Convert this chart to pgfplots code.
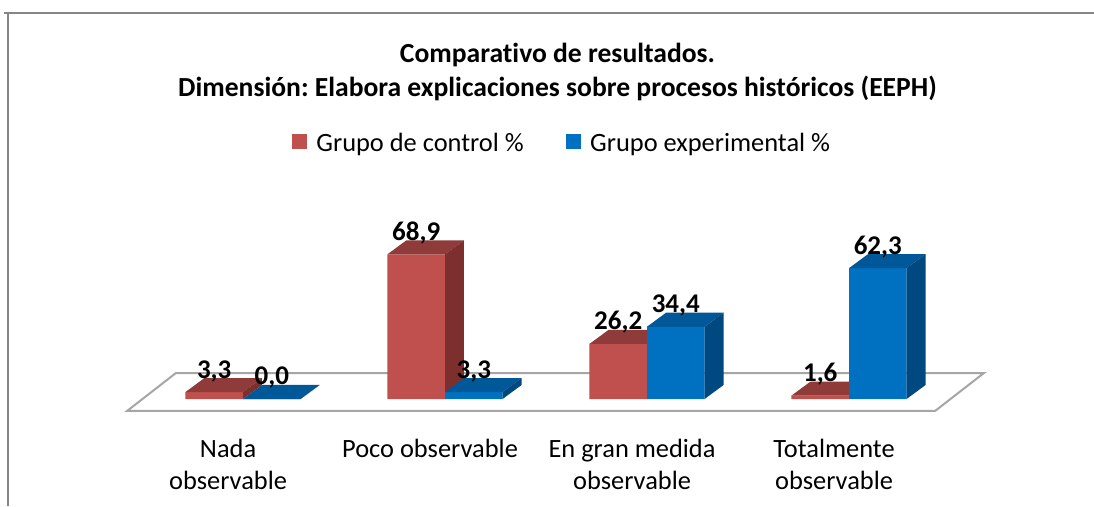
\documentclass[border=0pt]{standalone}
\usepackage{pgfplots}
\pgfplotsset{compat=1.18}
\usepackage{pgfplotstable}
\usepackage{fontspec}
\setmainfont{Carlito}[Ligatures=NoCommon]
\frenchspacing
\definecolor{cred}{RGB}{192,80,77}
\definecolor{credtop}{RGB}{142,59,57}
\definecolor{credside}{RGB}{125,47,45}
\definecolor{cblue}{RGB}{0,112,192}
\definecolor{cbluetop}{RGB}{0,88,152}
\definecolor{cblueside}{RGB}{0,72,128}
\definecolor{floorgray}{RGB}{166,166,166}
\definecolor{framegray}{RGB}{134,134,134}

\newcommand\bw{0.285}
\newcommand\ddx{0.094}
\newcommand\ddy{6.67}

\newcommand\faces[4]{%
 \pgfmathsetmacro\xa{#1}%
 \pgfmathsetmacro\xb{#1+\bw}%
 \pgfmathsetmacro\xc{#1+\bw+\ddx}%
 \pgfmathsetmacro\xd{#1+\ddx}%
 \pgfmathsetmacro\ya{#2}%
 \pgfmathsetmacro\yb{#2+\ddy}%
 \edef\tmpfaces{%
  \noexpand\addplot[fill=#3,draw=none,forget plot] coordinates {(\xa,\ya) (\xb,\ya) (\xc,\yb) (\xd,\yb)} -- cycle;%
  \noexpand\addplot[fill=#4,draw=none,forget plot] coordinates {(\xb,0) (\xc,\ddy) (\xc,\yb) (\xb,\ya)} -- cycle;%
 }\tmpfaces}

\pgfplotstableread{
x v
0 3.3
1 68.9
2 26.2
3 1.6
}\ctrl
\pgfplotstableread{
x v
0 0.0
1 3.3
2 34.4
3 62.3
}\expt

\begin{document}
\begin{tikzpicture}
\useasboundingbox (0,0) rectangle (1094pt,506pt);
\fill[white] (0,0) rectangle (1094pt,506pt);
\draw[framegray, line width=2pt] (4pt,493pt) -- (1094pt,493pt);
\draw[framegray, line width=2pt] (8pt,493pt) -- (8pt,0pt);
\begin{axis}[
  at={(121.8pt,94.4pt)}, anchor=south west,
  x=202pt, y=2.1pt,
  xmin=-0.6, xmax=3.7, ymin=-6, ymax=80,
  clip=false,
  axis line style={draw=none},
  ytick=\empty,
  xtick={-0.074,0.926,1.926,2.926},
  xticklabels={{Nada\\observable},{Poco observable},{En gran medida\\observable},{Totalmente\\observable}},
  major tick length=0pt,
  xticklabel style={font=\fontsize{26.4}{32}\selectfont, align=center, anchor=north, yshift=-24pt},
  legend style={at={(0.5068,1.484)}, anchor=center, draw=none, fill=none,
    legend columns=2, font=\fontsize{26.4}{30}\selectfont,
    /tikz/every odd column/.append style={column sep=8pt},
    /tikz/every even column/.append style={column sep=40pt}},
]
% floor
\addplot[fill=white, draw=floorgray, line width=2pt, forget plot] coordinates {(-0.574,-5.71) (3.426,-5.71) (3.668,12.38) (-0.332,12.38)} -- cycle;
% control bars
\addplot[ybar, bar width=\bw, bar shift=-0.1425, fill=cred, draw=none, forget plot] table[x=x,y=v]{\ctrl};
\pgfplotsinvokeforeach{0,1,2,3}{%
  \pgfplotstablegetelem{#1}{v}\of\ctrl
  \faces{#1-0.285}{\pgfplotsretval}{credtop}{credside}
}
% experimental bars
\addplot[ybar, bar width=\bw, bar shift=0.1425, fill=cblue, draw=none, forget plot] table[x=x,y=v]{\expt};
\pgfplotsinvokeforeach{0,1,2,3}{%
  \pgfplotstablegetelem{#1}{v}\of\expt
  \faces{#1}{\pgfplotsretval}{cbluetop}{cblueside}
}
% data labels
\addplot[draw=none, mark=none, forget plot, nodes near coords, point meta=explicit,
  nodes near coords style={font=\bfseries\fontsize{27}{30}\selectfont, anchor=base, text=black},
  /pgf/number format/.cd, fixed, fixed zerofill, precision=1, use comma, assume math mode=true]
  table[x expr=\thisrow{x}-0.1425, y expr=\thisrow{v}+\ddy, meta=v]{\ctrl};
\addplot[draw=none, mark=none, forget plot, nodes near coords, point meta=explicit,
  nodes near coords style={font=\bfseries\fontsize{27}{30}\selectfont, anchor=base, text=black},
  /pgf/number format/.cd, fixed, fixed zerofill, precision=1, use comma, assume math mode=true]
  table[x expr=\thisrow{x}+0.1425, y expr=\thisrow{v}+\ddy, meta=v]{\expt};
% legend
\addlegendimage{legend image code/.code={\fill[cred] (0pt,-5pt) rectangle (14pt,9pt);}}
\addlegendentry{Grupo de control \%}
\addlegendimage{legend image code/.code={\fill[cblue] (0pt,-5pt) rectangle (14pt,9pt);}}
\addlegendentry{Grupo experimental \%}
\end{axis}
\node[font=\bfseries\fontsize{27.6}{34}\selectfont, align=center, anchor=base] at (557.5pt,409pt)
  {Comparativo de resultados.\\Dimensión: Elabora explicaciones sobre procesos históricos (EEPH)};
\end{tikzpicture}
\end{document}
